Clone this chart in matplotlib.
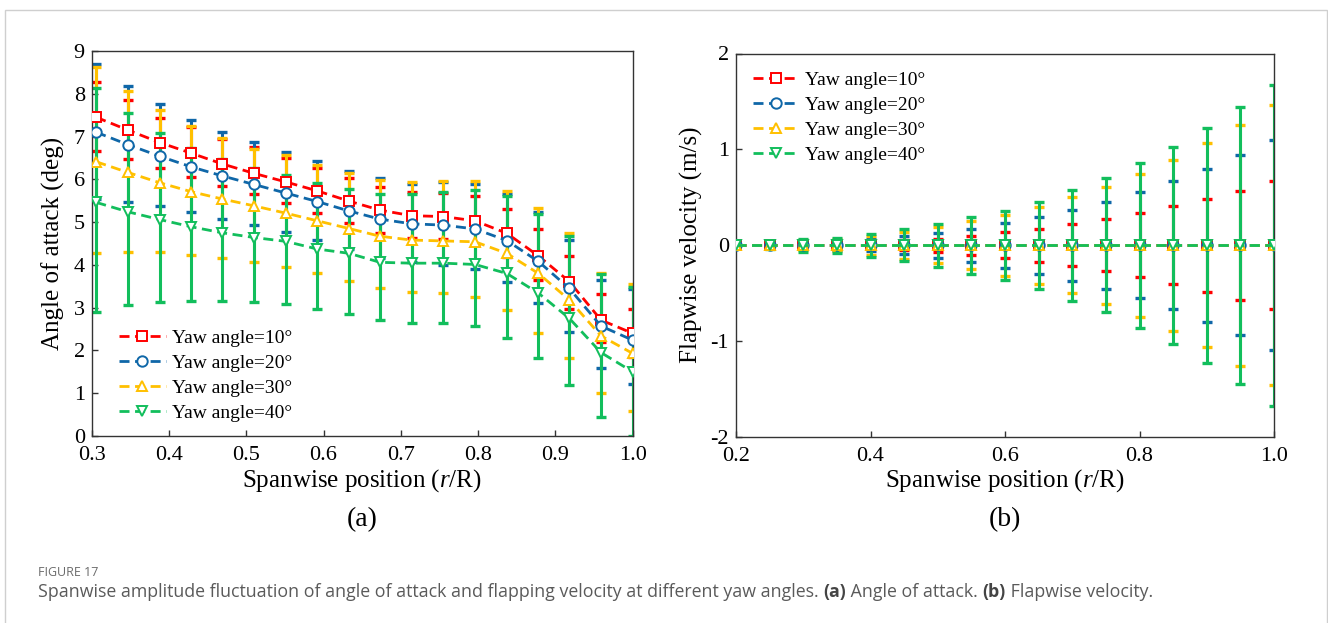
import matplotlib
matplotlib.use("Agg")
import matplotlib.pyplot as plt
from matplotlib.patches import Rectangle
from matplotlib.lines import Line2D

# ---------------- data ----------------
labels = ["Yaw angle=10°", "Yaw angle=20°", "Yaw angle=30°", "Yaw angle=40°"]
colors = ["#FF0000", "#0F67A8", "#FFC000", "#12BE5C"]
markers = ["s", "o", "^", "v"]

# (a) angle of attack
span_a = [0.306, 0.347, 0.388, 0.429, 0.469, 0.510, 0.551, 0.592, 0.633,
          0.673, 0.714, 0.755, 0.796, 0.837, 0.878, 0.918, 0.959, 1.0]

aoa_10 = [7.45, 7.15, 6.86, 6.61, 6.36, 6.14, 5.94, 5.73, 5.49, 5.28, 5.15, 5.13, 5.03, 4.74, 4.21, 3.61, 2.71, 2.40]
aoa_10_min = [6.67, 6.47, 6.26, 6.05, 5.84, 5.66, 5.44, 5.21, 4.98, 4.75, 4.62, 4.60, 4.46, 4.18, 3.65, 2.98, 2.20, 1.84]
aoa_10_max = [8.27, 7.85, 7.43, 7.22, 6.95, 6.75, 6.51, 6.26, 6.02, 5.83, 5.71, 5.67, 5.60, 5.31, 4.83, 4.21, 3.33, 2.96]

aoa_20 = [7.10, 6.81, 6.54, 6.29, 6.08, 5.88, 5.68, 5.48, 5.26, 5.07, 4.96, 4.93, 4.84, 4.57, 4.08, 3.45, 2.57, 2.24]
aoa_20_min = [5.55, 5.47, 5.37, 5.24, 5.08, 4.93, 4.78, 4.58, 4.36, 4.16, 4.06, 4.00, 3.90, 3.59, 3.10, 2.44, 1.58, 1.22]
aoa_20_max = [8.69, 8.18, 7.75, 7.39, 7.11, 6.88, 6.65, 6.42, 6.20, 6.04, 5.90, 5.93, 5.88, 5.66, 5.24, 4.58, 3.65, 3.43]

aoa_30 = [6.41, 6.16, 5.92, 5.71, 5.54, 5.38, 5.21, 5.03, 4.85, 4.67, 4.58, 4.56, 4.54, 4.27, 3.80, 3.18, 2.34, 1.93]
aoa_30_min = [4.27, 4.30, 4.29, 4.24, 4.17, 4.06, 3.96, 3.80, 3.63, 3.47, 3.36, 3.34, 3.24, 2.95, 2.40, 1.82, 1.00, 0.58]
aoa_30_max = [8.63, 8.06, 7.61, 7.25, 6.97, 6.72, 6.56, 6.33, 6.14, 5.98, 5.93, 5.96, 5.95, 5.73, 5.32, 4.74, 3.82, 3.55]

aoa_40 = [5.46, 5.24, 5.06, 4.89, 4.75, 4.64, 4.55, 4.37, 4.27, 4.06, 4.04, 4.04, 4.01, 3.80, 3.34, 2.75, 1.95, 1.50]
aoa_40_min = [2.91, 3.06, 3.13, 3.16, 3.16, 3.13, 3.09, 2.97, 2.85, 2.71, 2.63, 2.63, 2.57, 2.30, 1.82, 1.19, 0.44, 0.00]
aoa_40_max = [8.14, 7.56, 7.09, 6.73, 6.47, 6.27, 6.10, 5.91, 5.77, 5.66, 5.66, 5.70, 5.75, 5.60, 5.19, 4.67, 3.79, 3.49]

# (b) flapwise velocity
span_b = [0.20, 0.25, 0.30, 0.35, 0.40, 0.45, 0.50, 0.55, 0.60,
          0.65, 0.70, 0.75, 0.80, 0.85, 0.90, 0.95, 1.00]
flap_mean = [0.0, 0.0, 0.0, 0.0, 0.0, 0.0, 0.0, 0.0, 0.0,
             0.0, 0.0, 0.0, 0.0, 0.0, 0.0, 0.0, 0.0]
flap_amp_10 = [0.01, 0.015, 0.02, 0.03, 0.035, 0.05, 0.07, 0.10, 0.135, 0.17, 0.22, 0.27, 0.335, 0.405, 0.485, 0.57, 0.67]
flap_amp_20 = [0.01, 0.02, 0.03, 0.045, 0.065, 0.095, 0.13, 0.17, 0.235, 0.295, 0.37, 0.455, 0.555, 0.67, 0.80, 0.94, 1.095]
flap_amp_30 = [0.015, 0.03, 0.05, 0.065, 0.10, 0.14, 0.19, 0.25, 0.32, 0.40, 0.50, 0.61, 0.745, 0.89, 1.065, 1.255, 1.46]
flap_amp_40 = [0.02, 0.04, 0.066, 0.08, 0.12, 0.167, 0.226, 0.295, 0.36, 0.455, 0.58, 0.70, 0.86, 1.025, 1.225, 1.445, 1.675]

xticks_a = [0.3, 0.4, 0.5, 0.6, 0.7, 0.8, 0.9, 1.0]
yticks_a = [0, 1, 2, 3, 4, 5, 6, 7, 8, 9]
xticks_b = [0.2, 0.4, 0.6, 0.8, 1.0]
yticks_b = [-2, -1, 0, 1, 2]

# ---------------- figure ----------------
W, H = 1328, 623
plt.rcParams["font.family"] = ["Liberation Serif", "DejaVu Serif"]
plt.rcParams["mathtext.fontset"] = "custom"
plt.rcParams["mathtext.rm"] = "Liberation Serif"
plt.rcParams["mathtext.it"] = "Liberation Serif:italic"

fig = plt.figure(figsize=(W / 100, H / 100), dpi=100)
fig.patch.set_facecolor("white")


def px_axes(l, t, r, b):
    return fig.add_axes([l / W, 1 - b / H, (r - l) / W, (b - t) / H])


axA = px_axes(91.7, 51, 632.7, 436)
axB = px_axes(736, 53.5, 1274, 437)

dash = (0, (3.6, 2.0))
TICK_FS = 16
LAB_FS = 18


def style_axes(ax):
    for s in ax.spines.values():
        s.set_linewidth(1.0)
        s.set_color("#333333")
    ax.tick_params(direction="in", length=4, width=1.0, labelsize=TICK_FS,
                   top=False, right=False, color="#333333")
    ax.tick_params(axis="x", pad=7.5)
    ax.tick_params(axis="y", pad=5)


# ---- (a)
a_means = [aoa_10, aoa_20, aoa_30, aoa_40]
a_mins = [aoa_10_min, aoa_20_min, aoa_30_min, aoa_40_min]
a_maxs = [aoa_10_max, aoa_20_max, aoa_30_max, aoa_40_max]
for i in range(4):
    m, lo, hi = a_means[i], a_mins[i], a_maxs[i]
    yerr = [[mm - l for mm, l in zip(m, lo)], [h - mm for mm, h in zip(m, hi)]]
    axA.errorbar(span_a, m, yerr=yerr, fmt="none", ecolor=colors[i],
                 elinewidth=2.2, capsize=3.8, capthick=2.4, zorder=2 + 0.1 * i)
for i in range(4):
    axA.plot(span_a, a_means[i], color=colors[i], lw=2.0, linestyle=dash,
             marker=markers[i], ms=6.5 if markers[i] == "s" else 7.5,
             mfc="white", mec=colors[i], mew=1.4, zorder=5 + 0.1 * i)

axA.set_xlim(0.3, 1.0)
axA.set_ylim(0, 9)
axA.set_xticks(xticks_a)
axA.set_xticklabels([f"{v:.1f}" for v in xticks_a])
axA.set_yticks(yticks_a)
style_axes(axA)

# ---- (b)
b_amps = [flap_amp_10, flap_amp_20, flap_amp_30, flap_amp_40]
for i in range(4):
    axB.errorbar(span_b, flap_mean, yerr=b_amps[i], fmt="none", ecolor=colors[i],
                 elinewidth=2.2, capsize=3.8, capthick=2.4, zorder=2 + 0.1 * i)
for i in range(4):
    axB.plot(span_b, flap_mean, color=colors[i], lw=2.0, linestyle=dash,
             marker=markers[i], ms=6.5 if markers[i] == "s" else 7.5,
             mfc="white", mec=colors[i], mew=1.4, zorder=5 + 0.1 * i)

axB.set_xlim(0.2, 1.0)
axB.set_ylim(-2, 2)
axB.set_xticks(xticks_b)
axB.set_xticklabels([f"{v:.1f}" for v in xticks_b])
axB.set_yticks(yticks_b)
axB.set_yticklabels([str(v) for v in yticks_b])
style_axes(axB)

# ---- legends
handles = [Line2D([], [], color=colors[i], lw=2.0, linestyle=dash, marker=markers[i],
                  ms=6.5 if markers[i] == "s" else 7.5, mfc="white", mec=colors[i], mew=1.4)
           for i in range(4)]
leg_kw = dict(frameon=False, fontsize=14, handlelength=2.4, handletextpad=0.3,
              labelspacing=0.38, borderpad=0, borderaxespad=0, numpoints=1)
axA.legend(handles, labels, loc="upper left",
           bbox_to_anchor=(119 / W, 1 - 329 / H), bbox_transform=fig.transFigure, **leg_kw)
axB.legend(handles, labels, loc="upper left",
           bbox_to_anchor=(752.5 / W, 1 - 71 / H), bbox_transform=fig.transFigure, **leg_kw)

# ---- axis labels and panel tags
fig.text(53 / W, 1 - 243.5 / H, "Angle of attack (deg)", rotation=90, ha="center", va="center", fontsize=LAB_FS)
fig.text(691.5 / W, 1 - 245 / H, "Flapwise velocity (m/s)", rotation=90, ha="center", va="center", fontsize=LAB_FS)
fig.text(362 / W, 1 - 481 / H, r"Spanwise position ($\mathit{r}$/R)", ha="center", va="center", fontsize=LAB_FS)
fig.text(1005 / W, 1 - 481 / H, r"Spanwise position ($\mathit{r}$/R)", ha="center", va="center", fontsize=LAB_FS)
fig.text(362 / W, 1 - 520 / H, "(a)", ha="center", va="center", fontsize=20)
fig.text(1005 / W, 1 - 520 / H, "(b)", ha="center", va="center", fontsize=20)

# ---- frame
fig.patches.append(Rectangle((4.5 / W, -0.2), 1322 / W, 1.2 - 9.5 / H, transform=fig.transFigure,
                             fill=False, edgecolor="#cfcfcf", lw=1.0))

# ---- caption
cap_font = ["Open Sans", "DejaVu Sans"]
fig.text(38 / W, 1 - 572 / H, "FIGURE 17", ha="left", va="center", fontsize=9,
         color="#6b6b6b", family=cap_font)
fig.canvas.draw()
renderer = fig.canvas.get_renderer()
parts = [("Spanwise amplitude fluctuation of angle of attack and flapping velocity at different yaw angles. ", "normal"),
         ("(a)", "bold"), (" Angle of attack. ", "normal"), ("(b)", "bold"), (" Flapwise velocity.", "normal")]
xpos = 38
for s, w in parts:
    t = fig.text(xpos / W, 1 - 592 / H, s, ha="left", va="center", fontsize=12.8,
                 fontweight=w, color="#5a5a5a" if w == "normal" else "#444444", family=cap_font)
    xpos += t.get_window_extent(renderer).width

fig.savefig("out.png", dpi=100, facecolor="white")
